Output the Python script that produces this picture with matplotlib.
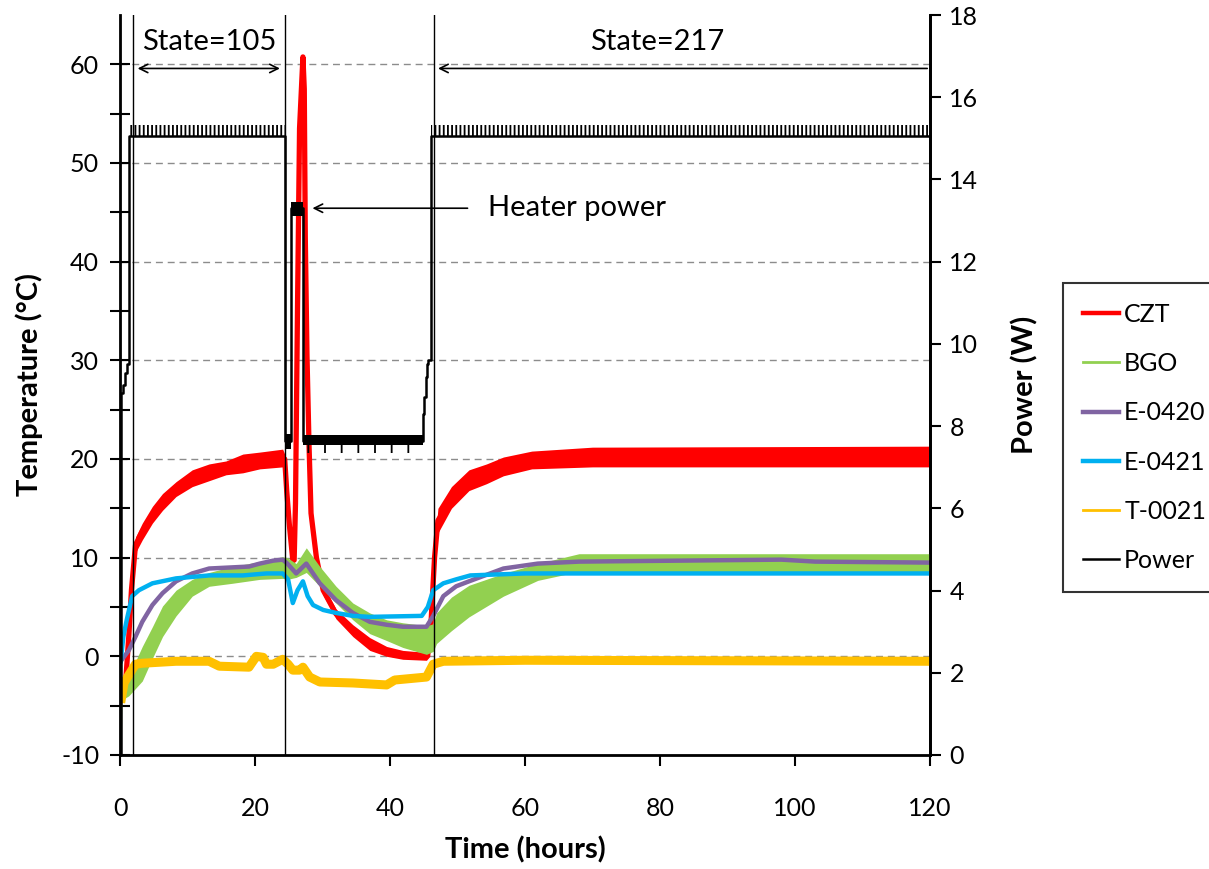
import matplotlib
matplotlib.use("Agg")
import matplotlib.pyplot as plt
from matplotlib.lines import Line2D
import numpy as np

plt.rcParams['font.family'] = ['Lato', 'DejaVu Sans']
plt.rcParams['hatch.linewidth'] = 1.3
plt.rcParams['axes.unicode_minus'] = False

# ---- data (time in hours) ----
czt_t = [0.3, 0.9, 1.3, 1.7, 2.3, 3.3, 4.8, 6.3, 8.3, 10.7, 13.2, 15.7, 18.2, 20.7, 24.1,
         24.4, 24.7, 25.1, 25.6, 25.8, 26.0, 26.3, 26.6, 27.1, 27.3, 27.45, 27.7, 28.0, 28.3,
         29.1, 30.1, 32.0, 34.5, 37.0, 39.5, 41.9, 45.4, 45.9, 46.2, 46.6, 47.1, 49.1, 51.7,
         54.3, 56.8, 61.0, 70.0, 120.0]
czt_lo = [-4.5, -2.5, 1.5, 6.0, 10.5, 11.8, 13.5, 14.8, 16.2, 17.2, 17.8, 18.4, 18.6, 19.0, 19.2,
          19.5, 16.5, 13.0, 9.5, 9.5, 15.0, 35.0, 53.0, 60.5, 57.0, 42.0, 30.0, 21.0, 14.0,
          9.5, 6.2, 3.8, 2.0, 0.6, 0.0, -0.3, -0.4, 0.0, 4.0, 9.0, 12.5, 15.0, 16.8,
          17.5, 18.3, 19.0, 19.2, 19.2]
czt_hi = [-3.5, -1.5, 2.5, 7.5, 12.1, 13.5, 15.2, 16.5, 17.7, 18.9, 19.5, 19.8, 20.5, 20.7, 21.0,
          20.5, 17.0, 13.5, 10.0, 10.0, 16.0, 36.0, 54.0, 61.0, 58.0, 43.0, 31.0, 22.0, 15.0,
          10.5, 7.2, 4.8, 3.2, 1.9, 1.0, 0.6, 0.4, 2.0, 6.0, 11.0, 15.0, 17.2, 18.9,
          19.5, 20.2, 20.8, 21.2, 21.3]

bgo_t = [0.0, 0.1, 1.3, 3.3, 4.8, 6.3, 8.3, 10.7, 13.2, 16.6, 20.7, 24.1, 24.8, 26.1, 27.6,
         29.6, 32.0, 34.5, 37.0, 39.5, 41.9, 45.4, 46.4, 46.9, 49.1, 51.7, 56.8, 61.9, 68.0, 120.0]
bgo_lo = [-10.0, -4.5, -4.0, -2.5, -0.2, 2.0, 4.1, 6.1, 7.1, 7.4, 7.8, 7.9, 7.8, 8.0, 8.5,
          7.1, 5.4, 3.7, 2.3, 1.6, 0.9, 0.2, 0.5, 1.3, 2.6, 4.0, 6.1, 7.7, 8.6, 8.6]
bgo_hi = [-10.0, -2.5, -2.0, 1.0, 3.0, 5.1, 6.7, 7.8, 8.5, 9.1, 9.6, 10.1, 10.0, 9.4, 11.0,
          9.1, 7.1, 5.4, 4.4, 3.7, 3.4, 3.1, 3.3, 4.4, 6.0, 7.2, 8.4, 9.4, 10.4, 10.4]

e0420_t = [0.1, 1.3, 2.3, 3.3, 4.8, 6.3, 8.3, 10.7, 13.2, 19.1, 20.7, 22.7, 24.1, 24.8, 26.1,
           27.6, 28.6, 29.6, 32.0, 34.5, 37.0, 39.5, 41.9, 45.4, 46.4, 47.9, 49.8, 51.7, 56.8,
           61.9, 68.0, 98.0, 103.0, 120.0]
e0420 = [-0.5, 0.6, 2.0, 3.5, 5.2, 6.4, 7.6, 8.4, 8.9, 9.1, 9.4, 9.7, 9.8, 9.4, 8.4,
         9.4, 8.4, 7.4, 5.7, 4.4, 3.5, 3.2, 3.0, 3.0, 4.1, 6.1, 7.1, 7.6, 8.9,
         9.4, 9.6, 9.8, 9.6, 9.5]

e0421_t = [0.1, 0.5, 1.0, 1.8, 2.8, 4.8, 8.3, 13.2, 18.2, 21.7, 24.1, 24.9, 25.6, 26.3, 27.1,
           27.8, 28.6, 30.1, 32.0, 34.5, 37.0, 44.7, 45.6, 46.4, 47.9, 49.8, 51.9, 60.0, 120.0]
e0421 = [-0.5, 2.0, 3.7, 6.1, 6.7, 7.4, 7.9, 8.2, 8.2, 8.4, 8.4, 7.8, 5.4, 6.7, 7.6,
         6.1, 5.2, 4.7, 4.4, 4.1, 4.0, 4.1, 5.0, 6.7, 7.4, 7.8, 8.2, 8.4, 8.4]

t0021_t = [0.1, 0.6, 1.3, 2.3, 3.3, 8.3, 13.2, 14.7, 19.1, 20.2, 21.2, 21.7, 22.7, 24.1, 24.9,
           25.6, 26.6, 27.1, 28.1, 29.6, 34.5, 39.5, 40.7, 45.4, 46.4, 47.9, 60.0, 120.0]
t0021 = [-4.7, -2.7, -1.9, -0.8, -0.7, -0.5, -0.5, -1.0, -1.1, 0.0, -0.1, -0.8, -0.8, -0.3, -0.8,
         -1.4, -1.4, -1.1, -2.1, -2.6, -2.7, -2.9, -2.4, -2.1, -0.8, -0.5, -0.4, -0.5]

# heater power (W), steps
pow_t = [0.0, 0.15, 0.5, 0.8, 1.1, 1.3, 24.45, 25.4, 27.1, 44.9, 45.1, 45.3, 45.5, 45.7, 46.0, 120.0]
pow_w = [0.0, 8.8, 9.0, 9.3, 9.5, 15.06, 7.64, 13.3, 7.64, 8.3, 8.7, 9.2, 9.5, 9.6, 15.06, 15.06]

state_lines = [1.9, 24.4, 46.5]

fig = plt.figure(figsize=(12.09, 8.69), dpi=100)
ax = fig.add_axes([120 / 1209, 1 - 755 / 869, 810 / 1209, 740 / 869])
ax2 = ax.twinx()

# temperatures
red, green, purple, blue, yellow = '#FF0000', '#92D050', '#8064A2', '#00B0F0', '#FFC000'
ax.fill_between(czt_t, czt_lo, czt_hi, color=red, lw=0, zorder=2)
ax.plot(czt_t, (np.array(czt_lo) + np.array(czt_hi)) / 2, color=red, lw=3.8, zorder=2)
ax.fill_between(bgo_t, bgo_lo, bgo_hi, color=green, lw=0, zorder=3)
ax.plot(bgo_t, (np.array(bgo_lo) + np.array(bgo_hi)) / 2, color=green, lw=2.5, zorder=3)
ax.plot(e0420_t, e0420, color=purple, lw=3.2, zorder=4)
ax.plot(e0421_t, e0421, color=blue, lw=3.2, zorder=5)
ax.plot(t0021_t, t0021, color=yellow, lw=6.5, zorder=6, solid_capstyle='butt')

ax.set_xlim(0, 120)
ax.set_ylim(-10, 65)
ax.set_xticks(range(0, 121, 20))
ax.set_yticks(range(-10, 61, 10))
ax.set_yticks(range(-5, 61, 10), minor=True)
ax.tick_params(axis='y', which='both', direction='inout', length=14, width=1.5, labelsize=18, pad=8)
ax.tick_params(axis='x', direction='out', length=8, width=1.5, labelsize=18, pad=22)
for y in range(0, 61, 10):
    ax.axhline(y, color='#8c8c8c', lw=1, ls=(0, (5, 3.5)), zorder=1)
for x in state_lines:
    ax.axvline(x, color='black', lw=1, zorder=7)
for s in ['left', 'bottom', 'right']:
    ax.spines[s].set_linewidth(2)
ax.spines['top'].set_visible(False)

ax.set_xlabel('Time (hours)', fontsize=21, fontweight='bold')
ax.set_ylabel('Temperature (°C)', fontsize=21, fontweight='bold')
ax.xaxis.set_label_coords(0.5, -0.11)
ax.yaxis.set_label_coords(-0.095, 0.5)

# power on right axis
ax2.step(pow_t, pow_w, where='post', color='black', lw=1.8, zorder=5)
ax2.fill_between([1.3, 24.45], 15.06, 15.33, facecolor='none', edgecolor='black', hatch='||||', lw=0)
ax2.fill_between([46.0, 120.0], 15.06, 15.33, facecolor='none', edgecolor='black', hatch='||||', lw=0)
ax2.fill_between([24.45, 25.4], 7.45, 7.8, color='black', lw=0)
ax2.fill_between([25.4, 27.1], 13.1, 13.46, color='black', lw=0)
ax2.fill_between([27.1, 44.9], 7.55, 7.78, color='black', lw=0)
ax2.fill_between([27.1, 44.9], 7.35, 7.55, facecolor='none', edgecolor='black', hatch='|', lw=0)
ax2.set_ylim(0, 18)
ax2.set_yticks(range(0, 19, 2))
ax2.tick_params(axis='y', direction='out', length=8, width=1.5, labelsize=18, pad=6)
ax2.spines['right'].set_linewidth(2)
ax2.spines['top'].set_visible(False)
ax2.set_ylabel('Power (W)', fontsize=21, fontweight='bold')
ax2.yaxis.set_label_coords(1.1, 0.5)

# annotations
ax2.annotate('', xy=(2.2, 16.7), xytext=(24.1, 16.7),
             arrowprops=dict(arrowstyle='<->', color='black', lw=1.2, mutation_scale=15))
ax2.annotate('', xy=(46.7, 16.7), xytext=(120, 16.7),
             arrowprops=dict(arrowstyle='->', color='black', lw=1.2, mutation_scale=15))
ax.text(13.2, 62.3, 'State=105', fontsize=21, ha='center', va='center')
ax.text(79.6, 62.3, 'State=217', fontsize=21, ha='center', va='center')
ax2.annotate('', xy=(28.1, 13.3), xytext=(51.9, 13.3),
             arrowprops=dict(arrowstyle='->', color='black', lw=1.2, mutation_scale=15))
ax2.text(54.5, 13.3, 'Heater power', fontsize=21, ha='left', va='center')

# legend
handles = [Line2D([], [], color=red, lw=3.2), Line2D([], [], color=green, lw=2),
           Line2D([], [], color=purple, lw=3.2), Line2D([], [], color=blue, lw=3.2),
           Line2D([], [], color=yellow, lw=2), Line2D([], [], color='black', lw=1.8)]
labels = ['CZT', 'BGO', 'E-0420', 'E-0421', 'T-0021', 'Power']
leg = fig.legend(handles, labels, loc='upper left', bbox_to_anchor=(1063 / 1209, 1 - 283 / 869),
                 fontsize=18, frameon=True, fancybox=False, edgecolor='black',
                 handlelength=1.45, handletextpad=0.2, labelspacing=1.05, borderpad=0.8,
                 borderaxespad=0)
leg.get_frame().set_linewidth(1.5)

fig.savefig('out.png', dpi=100)
